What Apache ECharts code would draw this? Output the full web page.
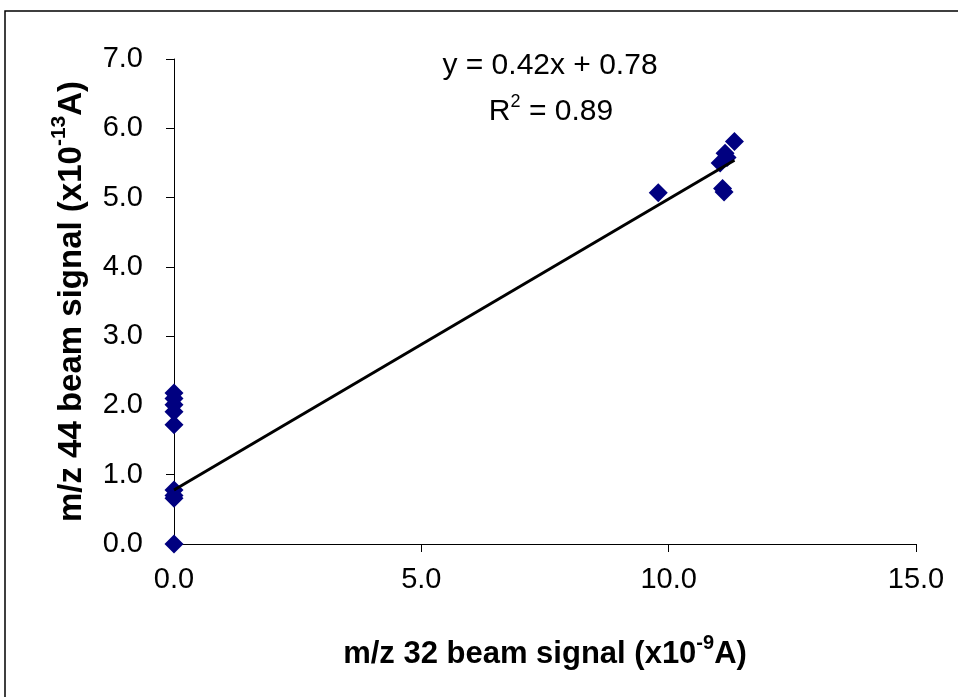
<!DOCTYPE html>
<html><head><meta charset="utf-8">
<script src="https://cdn.jsdelivr.net/npm/echarts@6/dist/echarts.min.js"></script>
<style>html,body{margin:0;padding:0;background:#fff}#c{width:958px;height:697px}</style>
</head><body><div id="c"></div>
<script>
var xValues = [0, 0, 0, 0, 0, 0, 0, 0, 0, 9.79, 11.04, 11.14, 11.33, 11.18, 11.09, 11.12];
var yValues = [0, 0.66, 0.7, 0.78, 1.72, 1.91, 2.01, 2.1, 2.18, 5.07, 5.50, 5.64, 5.81, 5.58, 5.13, 5.08];
var slope = 0.42, intercept = 0.78;
var trendX = [0, 11.33];
var xTicks = [0, 5, 10, 15];
var yTicks = [0, 1, 2, 3, 4, 5, 6, 7];

var pts = xValues.map(function(x, i){ return [x, yValues[i]]; });
var trend = trendX.map(function(x){ return [x, slope * x + intercept]; });
var font = '"Liberation Sans", Arial, sans-serif';
function titleRich(size, supSize){
  return {
    b: {fontSize: size, fontWeight: 'bold', fontFamily: font, color: '#000', lineHeight: size + 6, verticalAlign: 'bottom'},
    s: {fontSize: supSize, fontWeight: 'bold', fontFamily: font, color: '#000', lineHeight: supSize, verticalAlign: 'top'}
  };
}
var chart = echarts.init(document.getElementById('c'));
chart.setOption({
  animation: false,
  backgroundColor: '#fff',
  grid: {left: 174, top: 59, width: 742, height: 485, containLabel: false},
  xAxis: {
    type: 'value', min: xTicks[0], max: xTicks[xTicks.length - 1], interval: 5,
    axisLine: {lineStyle: {color: '#000', width: 1}},
    axisTick: {show: true, length: 8, lineStyle: {color: '#000'}},
    splitLine: {show: false},
    axisLabel: {color: '#000', fontSize: 29, fontFamily: font, margin: 21, formatter: function(v){return v.toFixed(1);}},
    name: '{b|m/z 32 beam signal (x10}{s|-9}{b|A)}',
    nameLocation: 'middle', nameGap: 89,
    nameTextStyle: {rich: titleRich(31, 20)}
  },
  yAxis: {
    type: 'value', min: yTicks[0], max: yTicks[yTicks.length - 1], interval: 1,
    axisLine: {show: true, lineStyle: {color: '#000', width: 1}},
    axisTick: {show: true, length: 8, lineStyle: {color: '#000'}},
    splitLine: {show: false},
    axisLabel: {color: '#000', fontSize: 29, fontFamily: font, margin: 31, formatter: function(v){return v.toFixed(1);}},
    name: '{b|m/z 44 beam signal (x10}{s|-13}{b|A)}',
    nameLocation: 'middle', nameGap: 86, nameRotate: 90,
    nameTextStyle: {rich: titleRich(33, 21)}
  },
  series: [
    {type: 'line', data: trend, symbol: 'none', lineStyle: {color: '#000', width: 3}, z: 3},
    {type: 'scatter', data: pts, symbol: 'diamond', symbolSize: 19, itemStyle: {color: '#000080', opacity: 1}, z: 2}
  ],
  graphic: [
    {type: 'rect', shape: {x: 5, y: 11, width: 1200, height: 1200}, style: {fill: 'none', stroke: '#000', lineWidth: 1.5}, z: -1, silent: true},
    {type: 'text', x: 550, y: 66, style: {text: 'y = 0.42x + 0.78', font: '30px ' + font, fill: '#000', align: 'center', verticalAlign: 'middle'}},
    {type: 'text', x: 551, y: 110, style: {text: '{a|R}{s|2}{a| = 0.89}', align: 'center', verticalAlign: 'middle', rich: {
      a: {fontSize: 30, fontFamily: font, fill: '#000', lineHeight: 34, verticalAlign: 'bottom'},
      s: {fontSize: 18, fontFamily: font, fill: '#000', lineHeight: 18, verticalAlign: 'top'}
    }}}
  ]
});
</script></body></html>
